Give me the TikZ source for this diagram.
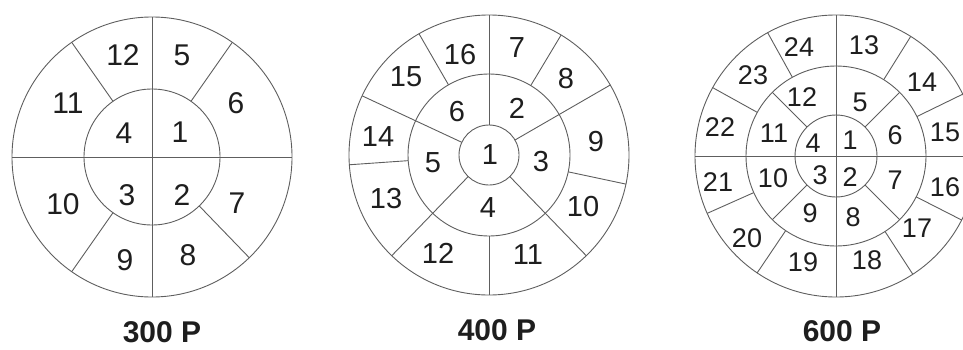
\documentclass[tikz,border=0pt]{standalone}
\usepackage{fontspec}
\setmainfont{Liberation Sans}
\definecolor{ringgray}{HTML}{5E5E5E}
\definecolor{numblack}{HTML}{1E1E1E}
\begin{document}
\begin{tikzpicture}[x=1pt,y=1pt,
  ring/.style={draw=ringgray,line width=0.9pt},
  num/.style={text=numblack,inner sep=0pt},
  ttl/.style={text=numblack,inner sep=0pt,font=\fontsize{30}{30}\selectfont\bfseries}]
\useasboundingbox (0,0) rectangle (963,349);
\clip (0,0) rectangle (963,349);
% 300 P
\begin{scope}[shift={(152,192)},every node/.append style={font=\fontsize{30}{30}\selectfont}]
\draw[ring] (0,0) circle[radius=140] (0,0) circle[radius=68];
\draw[ring] (-140,0) -- (140,0) (0,-140) -- (0,140);
\foreach \a in {55,125,235,314} \draw[ring] (\a:68) -- (\a:140);
\foreach \t/\x/\y in {1/28/25,2/30/-38,3/-25/-38,4/-28/24,5/30/102,6/84/54,
  7/85/-46,8/36/-98,9/-27/-103,10/-89/-47,11/-84/54,12/-29/102}
  \node[num] (a\t) at (\x,\y) {\t};
\node[ttl] (ta) at (10,-175) {300 P};
\end{scope}
% 400 P
\begin{scope}[shift={(489,194)},every node/.append style={font=\fontsize{29}{29}\selectfont}]
\draw[ring] (0,0) circle[radius=140] (0,0) circle[radius=81] (0,0) circle[radius=30];
\draw[ring] (0,30) -- (0,140) (0,-81) -- (0,-140);
\foreach \a in {30,-46,-134,155} \draw[ring] (\a:30) -- (\a:140);
\foreach \a in {59,-12,184,120} \draw[ring] (\a:81) -- (\a:140);
\foreach \t/\x/\y in {1/1/0,2/28/47,3/52/-7,4/-1/-53,5/-56/-8,6/-32/43,
  7/28/107,8/77/76,9/107/13,10/94/-52,11/39/-100,12/-51/-98,
  13/-103/-44,14/-111/18,15/-83/78,16/-29/100}
  \node[num] (b\t) at (\x,\y) {\t};
\node[ttl] (tb) at (8,-175) {400 P};
\end{scope}
% 600 P
\begin{scope}[shift={(836,193)},every node/.append style={font=\fontsize{27}{27}\selectfont}]
\draw[ring] (0,0) circle[radius=141] (0,0) circle[radius=90] (0,0) circle[radius=41];
\draw[ring] (-141,0) -- (141,0) (0,-141) -- (0,141);
\foreach \a in {45,135,225,315} \draw[ring] (\a:41) -- (\a:90);
\foreach \a in {26,58,119,151,204,236,303,333} \draw[ring] (\a:90) -- (\a:141);
\foreach \t/\x/\y in {1/14/16,2/14/-21,3/-16/-19,4/-23/13,5/24/54,6/59/21,
  7/59/-24,8/17/-61,9/-26/-57,10/-63/-22,11/-62/23,12/-34/59,
  13/28/111,14/86/74,15/109/24,16/109/-31,17/81/-72,18/31/-104,
  19/-33/-106,20/-89/-82,21/-118/-26,22/-116/29,23/-83/81,24/-37/109}
  \node[num] (c\t) at (\x,\y) {\t};
\node[ttl] (tc) at (6,-175) {600 P};
\end{scope}
\end{tikzpicture}
\end{document}
